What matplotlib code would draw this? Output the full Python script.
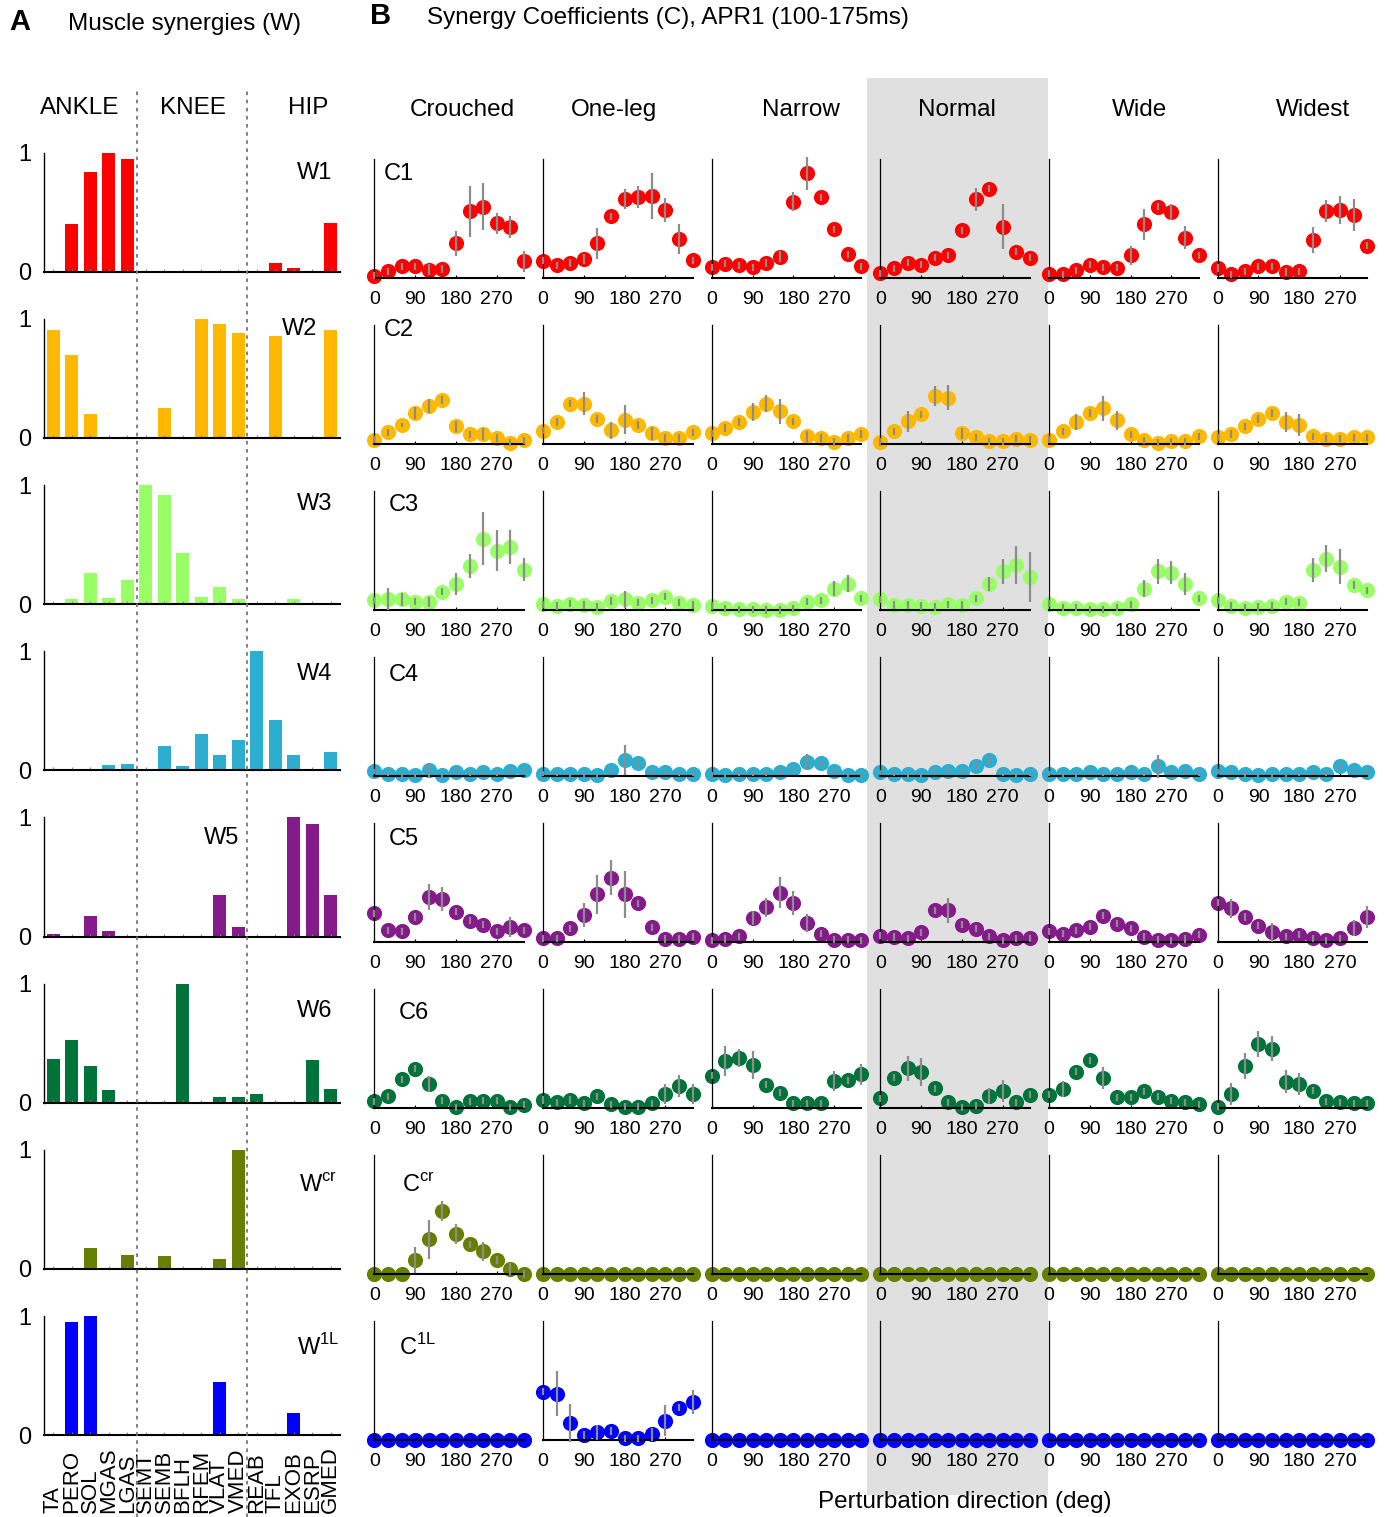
import matplotlib.pyplot as plt
import matplotlib.transforms as mtransforms
from matplotlib.patches import Rectangle
from matplotlib.lines import Line2D

plt.rcParams['font.family'] = ['Liberation Sans', 'DejaVu Sans']
plt.rcParams['mathtext.fontset'] = 'custom'
plt.rcParams['mathtext.rm'] = 'Liberation Sans'

# ---- data -------------------------------------------------------------
MUSCLES = ["TA", "PERO", "SOL", "MGAS", "LGAS", "SEMT", "SEMB", "BFLH",
           "RFEM", "VLAT", "VMED", "REAB", "TFL", "EXOB", "ESRP", "GMED"]
CONDITIONS = ["Crouched", "One-leg", "Narrow", "Normal", "Wide", "Widest"]
DIRECTIONS = [0, 30, 60, 90, 120, 150, 180, 210, 240, 270, 300, 330]
DIR_TICKS = [0, 90, 180, 270]

W_LABELS = ["W1", "W2", "W3", "W4", "W5", "W6", r"W$^{\rm cr}$", r"W$^{\rm 1L}$"]
C_LABELS = ["C1", "C2", "C3", "C4", "C5", "C6", r"C$^{\rm cr}$", r"C$^{\rm 1L}$"]
COLORS = ["#ff0000", "#ffb800", "#99ff66", "#2baed0",
          "#851a8a", "#00733a", "#667f00", "#0000ff"]

W1 = [0, 0.40, 0.84, 1.0, 0.95, 0, 0, 0, 0, 0, 0, 0, 0.07, 0.028, 0, 0.41]
W2 = [0.91, 0.70, 0.20, 0, 0, 0, 0.25, 0, 1.0, 0.96, 0.88, 0, 0.86, 0, 0, 0.905]
W3 = [0.005, 0.042, 0.258, 0.05, 0.20, 1.0, 0.92, 0.43, 0.06, 0.146, 0.04,
      0.003, 0.003, 0.04, 0.003, 0]
W4 = [0, 0, 0, 0.045, 0.056, 0, 0.204, 0.04, 0.307, 0.126, 0.257, 1.0,
      0.425, 0.126, 0, 0.154]
W5 = [0.022, 0, 0.17, 0.045, 0, 0, 0.008, 0, 0, 0.345, 0.084, 0, 0, 1.0,
      0.944, 0.345]
W6 = [0.37, 0.525, 0.306, 0.11, 0, 0, 0, 1.0, 0, 0.048, 0.048, 0.07, 0, 0,
      0.357, 0.112]
WCR = [0, 0, 0.177, 0, 0.115, 0, 0.107, 0, 0, 0.079, 1.0, 0, 0, 0, 0, 0]
W1L = [0, 0.952, 1.0, 0, 0, 0, 0, 0, 0, 0.443, 0, 0, 0, 0.182, 0, 0]

ZERO = [0, 0, 0, 0, 0, 0, 0, 0, 0, 0, 0, 0]

# rows: Crouched, One-leg, Narrow, Normal, Wide, Widest
C1_MEAN = [
    [0.02, 0.056, 0.10, 0.10, 0.07, 0.076, 0.29, 0.56, 0.60, 0.46, 0.43, 0.14],
    [0.146, 0.106, 0.126, 0.16, 0.29, 0.52, 0.66, 0.68, 0.69, 0.57, 0.33, 0.15],
    [0.09, 0.12, 0.106, 0.09, 0.126, 0.18, 0.64, 0.88, 0.68, 0.41, 0.20, 0.10],
    [0.04, 0.08, 0.13, 0.11, 0.17, 0.19, 0.40, 0.66, 0.75, 0.43, 0.22, 0.17],
    [0.036, 0.03, 0.065, 0.11, 0.09, 0.085, 0.19, 0.45, 0.60, 0.555, 0.34, 0.19],
    [0.084, 0.03, 0.056, 0.10, 0.10, 0.05, 0.056, 0.32, 0.56, 0.57, 0.53, 0.27],
]
C1_SEM = [
    [0.03, 0.03, 0.03, 0.03, 0.045, 0.03, 0.105, 0.213, 0.20, 0.088, 0.094, 0.09],
    [0.03, 0.03, 0.03, 0.04, 0.13, 0.03, 0.084, 0.094, 0.19, 0.10, 0.126, 0.03],
    [0.03, 0.03, 0.03, 0.03, 0.03, 0.045, 0.08, 0.14, 0.03, 0.03, 0.03, 0.03],
    [0.03, 0.03, 0.03, 0.03, 0.03, 0.03, 0.03, 0.094, 0.03, 0.19, 0.03, 0.03],
    [0.03, 0.03, 0.03, 0.03, 0.03, 0.03, 0.077, 0.13, 0.03, 0.065, 0.094, 0.03],
    [0.03, 0.03, 0.03, 0.03, 0.03, 0.03, 0.03, 0.106, 0.092, 0.116, 0.133, 0.03],
]
C2_MEAN = [
    [0.036, 0.10, 0.16, 0.26, 0.32, 0.37, 0.15, 0.08, 0.084, 0.05, 0.01, 0.03],
    [0.11, 0.185, 0.34, 0.34, 0.21, 0.115, 0.205, 0.16, 0.09, 0.05, 0.05, 0.10],
    [0.09, 0.135, 0.185, 0.27, 0.34, 0.275, 0.19, 0.065, 0.05, 0.017, 0.05, 0.084],
    [0.017, 0.107, 0.19, 0.25, 0.40, 0.39, 0.09, 0.056, 0.022, 0.022, 0.045, 0.036],
    [0.036, 0.107, 0.185, 0.26, 0.30, 0.20, 0.08, 0.03, 0.01, 0.022, 0.022, 0.065],
    [0.056, 0.084, 0.15, 0.21, 0.26, 0.185, 0.157, 0.065, 0.045, 0.045, 0.056, 0.056],
]
C2_SEM = [
    [0.03, 0.03, 0.02, 0.048, 0.06, 0.03, 0.045, 0.03, 0.05, 0.03, 0.03, 0.03],
    [0.03, 0.03, 0.03, 0.10, 0.03, 0.07, 0.12, 0.03, 0.056, 0.03, 0.03, 0.03],
    [0.03, 0.03, 0.03, 0.077, 0.075, 0.106, 0.03, 0.048, 0.03, 0.03, 0.03, 0.03],
    [0.03, 0.03, 0.09, 0.03, 0.084, 0.104, 0.045, 0.03, 0.03, 0.03, 0.03, 0.03],
    [0.03, 0.03, 0.07, 0.03, 0.106, 0.08, 0.03, 0.03, 0.03, 0.03, 0.03, 0.03],
    [0.03, 0.03, 0.03, 0.03, 0.03, 0.08, 0.092, 0.03, 0.03, 0.03, 0.03, 0.03],
]
C3_MEAN = [
    [0.08, 0.096, 0.09, 0.07, 0.07, 0.155, 0.22, 0.37, 0.60, 0.50, 0.53, 0.34],
    [0.048, 0.034, 0.054, 0.042, 0.025, 0.076, 0.09, 0.062, 0.082, 0.11, 0.062, 0.042],
    [0.034, 0.014, 0.006, 0.006, 0.0, 0.0, 0.014, 0.07, 0.082, 0.18, 0.22, 0.10],
    [0.09, 0.042, 0.042, 0.034, 0.025, 0.048, 0.042, 0.10, 0.22, 0.325, 0.38, 0.28],
    [0.054, 0.02, 0.02, 0.006, 0.006, 0.02, 0.048, 0.18, 0.325, 0.315, 0.22, 0.10],
    [0.08, 0.034, 0.02, 0.025, 0.034, 0.07, 0.062, 0.335, 0.43, 0.365, 0.21, 0.166],
]
C3_SEM = [
    [0.03, 0.092, 0.055, 0.03, 0.042, 0.03, 0.094, 0.101, 0.225, 0.175, 0.144, 0.099],
    [0.03, 0.03, 0.03, 0.03, 0.03, 0.03, 0.07, 0.03, 0.03, 0.03, 0.03, 0.03],
    [0.03, 0.03, 0.03, 0.03, 0.03, 0.03, 0.03, 0.03, 0.03, 0.063, 0.07, 0.03],
    [0.03, 0.03, 0.03, 0.03, 0.03, 0.03, 0.03, 0.03, 0.059, 0.106, 0.162, 0.211],
    [0.03, 0.03, 0.03, 0.03, 0.03, 0.03, 0.03, 0.068, 0.103, 0.094, 0.092, 0.03],
    [0.03, 0.03, 0.03, 0.03, 0.03, 0.03, 0.03, 0.103, 0.113, 0.15, 0.03, 0.03],
]
C4_MEAN = [
    [0.04, 0.02, 0.014, 0.008, 0.05, 0.008, 0.037, 0.02, 0.03, 0.02, 0.04, 0.05],
    [0.02, 0.02, 0.014, 0.014, 0.008, 0.05, 0.135, 0.107, 0.037, 0.03, 0.02, 0.02],
    [0.014, 0.008, 0.02, 0.02, 0.02, 0.037, 0.06, 0.115, 0.107, 0.04, 0.008, 0.008],
    [0.03, 0.02, 0.014, 0.008, 0.037, 0.04, 0.04, 0.087, 0.135, 0.02, 0.008, 0.02],
    [0.02, 0.014, 0.014, 0.03, 0.02, 0.02, 0.037, 0.02, 0.08, 0.037, 0.04, 0.02],
    [0.04, 0.03, 0.014, 0.008, 0.014, 0.014, 0.02, 0.03, 0.02, 0.08, 0.05, 0.037],
]
C4_SEM = [
    [0.02, 0.02, 0.02, 0.02, 0.06, 0.02, 0.02, 0.02, 0.02, 0.02, 0.02, 0.02],
    [0.02, 0.02, 0.02, 0.02, 0.02, 0.02, 0.127, 0.03, 0.02, 0.02, 0.02, 0.02],
    [0.02, 0.02, 0.02, 0.02, 0.02, 0.03, 0.02, 0.068, 0.03, 0.02, 0.02, 0.02],
    [0.02, 0.02, 0.02, 0.02, 0.02, 0.02, 0.02, 0.03, 0.03, 0.02, 0.02, 0.02],
    [0.02, 0.02, 0.02, 0.02, 0.02, 0.02, 0.02, 0.02, 0.10, 0.02, 0.02, 0.02],
    [0.02, 0.02, 0.02, 0.02, 0.02, 0.02, 0.02, 0.02, 0.02, 0.03, 0.02, 0.02],
]
C5_MEAN = [
    [0.24, 0.10, 0.09, 0.21, 0.38, 0.36, 0.256, 0.18, 0.145, 0.09, 0.125, 0.10],
    [0.033, 0.033, 0.117, 0.23, 0.40, 0.54, 0.40, 0.326, 0.125, 0.025, 0.025, 0.042],
    [0.014, 0.025, 0.047, 0.20, 0.29, 0.415, 0.33, 0.16, 0.07, 0.02, 0.02, 0.014],
    [0.053, 0.042, 0.033, 0.08, 0.265, 0.265, 0.145, 0.11, 0.047, 0.014, 0.033, 0.033],
    [0.09, 0.07, 0.098, 0.13, 0.22, 0.153, 0.117, 0.042, 0.02, 0.014, 0.025, 0.06],
    [0.33, 0.284, 0.21, 0.136, 0.08, 0.047, 0.06, 0.033, 0.014, 0.033, 0.117, 0.21],
]
C5_SEM = [
    [0.03, 0.03, 0.03, 0.03, 0.11, 0.102, 0.03, 0.03, 0.03, 0.03, 0.084, 0.03],
    [0.03, 0.03, 0.03, 0.10, 0.164, 0.146, 0.195, 0.03, 0.03, 0.03, 0.03, 0.03],
    [0.03, 0.03, 0.03, 0.06, 0.08, 0.13, 0.102, 0.074, 0.03, 0.03, 0.03, 0.03],
    [0.03, 0.03, 0.03, 0.03, 0.03, 0.107, 0.03, 0.03, 0.03, 0.03, 0.03, 0.03],
    [0.03, 0.03, 0.03, 0.03, 0.03, 0.03, 0.03, 0.03, 0.03, 0.03, 0.03, 0.03],
    [0.03, 0.08, 0.03, 0.03, 0.078, 0.03, 0.03, 0.03, 0.03, 0.03, 0.066, 0.09],
]
C6_MEAN = [
    [0.056, 0.10, 0.24, 0.33, 0.205, 0.06, 0.005, 0.056, 0.06, 0.06, 0.005, 0.028],
    [0.067, 0.047, 0.067, 0.04, 0.10, 0.033, 0.011, 0.011, 0.04, 0.117, 0.186, 0.117],
    [0.27, 0.394, 0.417, 0.36, 0.195, 0.13, 0.04, 0.04, 0.04, 0.23, 0.233, 0.283],
    [0.083, 0.255, 0.333, 0.30, 0.167, 0.047, 0.005, 0.02, 0.10, 0.14, 0.047, 0.11],
    [0.11, 0.158, 0.305, 0.40, 0.255, 0.09, 0.09, 0.14, 0.094, 0.06, 0.047, 0.033],
    [0.011, 0.117, 0.353, 0.54, 0.50, 0.222, 0.20, 0.144, 0.056, 0.047, 0.04, 0.04],
]
C6_SEM = [
    [0.03, 0.03, 0.03, 0.03, 0.067, 0.03, 0.03, 0.03, 0.03, 0.03, 0.03, 0.03],
    [0.03, 0.03, 0.03, 0.03, 0.03, 0.03, 0.03, 0.03, 0.03, 0.081, 0.09, 0.083],
    [0.03, 0.125, 0.076, 0.115, 0.03, 0.03, 0.03, 0.03, 0.03, 0.083, 0.03, 0.089],
    [0.03, 0.03, 0.108, 0.118, 0.03, 0.03, 0.03, 0.03, 0.065, 0.092, 0.03, 0.03],
    [0.03, 0.069, 0.03, 0.03, 0.093, 0.03, 0.03, 0.03, 0.03, 0.03, 0.03, 0.03],
    [0.03, 0.089, 0.111, 0.108, 0.103, 0.097, 0.09, 0.03, 0.03, 0.03, 0.03, 0.03],
]
CCR_CROUCHED = [0, 0, 0, 0.118, 0.29, 0.53, 0.336, 0.25, 0.19, 0.118, 0.04, 0]
CCR_CROUCHED_SEM = [0, 0, 0, 0.112, 0.161, 0.087, 0.08, 0.03, 0.077, 0.03, 0.05, 0.03]
C1L_ONELEG = [0.406, 0.39, 0.14, 0.042, 0.064, 0.076, 0.014, 0.014, 0.048, 0.16, 0.27, 0.32]
C1L_ONELEG_SEM = [0.03, 0.192, 0.16, 0.03, 0.06, 0.03, 0.03, 0.03, 0.056, 0.13, 0.03, 0.098]

CCR_MEAN = [CCR_CROUCHED, ZERO, ZERO, ZERO, ZERO, ZERO]
CCR_SEM = [CCR_CROUCHED_SEM, ZERO, ZERO, ZERO, ZERO, ZERO]
C1L_MEAN = [ZERO, C1L_ONELEG, ZERO, ZERO, ZERO, ZERO]
C1L_SEM = [ZERO, C1L_ONELEG_SEM, ZERO, ZERO, ZERO, ZERO]

W_ALL = [W1, W2, W3, W4, W5, W6, WCR, W1L]
C_MEAN_ALL = [C1_MEAN, C2_MEAN, C3_MEAN, C4_MEAN, C5_MEAN, C6_MEAN, CCR_MEAN, C1L_MEAN]
C_SEM_ALL = [C1_SEM, C2_SEM, C3_SEM, C4_SEM, C5_SEM, C6_SEM, CCR_SEM, C1L_SEM]

# ---- layout (pixels) --------------------------------------------------
FIG_W, FIG_H = 1385, 1517
A_LEFT, A_WIDTH, A_TOP0 = 44, 296, 152.7
ROW_STEP, AX_H = 166.2, 119
B_LEFT0, B_COL_STEP, B_WIDTH, B_TOP0, B_ROW_STEP = 374.4, 168.66, 149.6, 159, 166.0

W_LABEL_POS = [(315, 173), (300, 329), (315, 504), (315, 674),
               (222, 838), (315, 1011), (318, 1185), (318, 1347)]
C_LABEL_POS = [(399, 174), (399, 330), (404, 505), (404, 675),
               (404, 839), (414, 1013), (418, 1185), (418, 1347)]
HEADER_X = [462, 614, 801, 957, 1140, 1313]
GROUP_LABELS = [("ANKLE", 80), ("KNEE", 193), ("HIP", 308)]
GROUP_SPLITS = [4.5, 10.5]


def rect(left, top, width, height):
    return [left / FIG_W, 1 - (top + height) / FIG_H, width / FIG_W, height / FIG_H]


def pt(x, y):
    return x / FIG_W, 1 - y / FIG_H


fig = plt.figure(figsize=(FIG_W / 100, FIG_H / 100), dpi=100)

# grey band behind the "Normal" column
x0, y0 = pt(867, 1495)
x1, y1 = pt(1048, 78)
fig.patches.append(Rectangle((x0, y0), x1 - x0, y1 - y0, transform=fig.transFigure,
                             facecolor="#e0e0e0", edgecolor="none", zorder=-1))

# ---- panel A: synergy weights ----------------------------------------
xpos = list(range(len(MUSCLES)))
a_axes = []
for i, (w, color) in enumerate(zip(W_ALL, COLORS)):
    ax = fig.add_axes(rect(A_LEFT, A_TOP0 + i * ROW_STEP, A_WIDTH, AX_H))
    ax.set_facecolor("none")
    ax.bar(xpos, w, width=0.72, color=color, linewidth=0)
    ax.set_xlim(-0.5, 15.5)
    ax.set_ylim(0, 1)
    for s in ("top", "right"):
        ax.spines[s].set_visible(False)
    ax.spines["left"].set_linewidth(1.0)
    ax.spines["bottom"].set_linewidth(1.5)
    ax.set_yticks([0, 1])
    ax.set_yticklabels(["0", "1"], fontsize=17)
    ax.tick_params(axis="y", length=0, pad=9)
    ax.set_xticks(xpos)
    ax.set_xticklabels([])
    ax.tick_params(axis="x", direction="in", length=2, color="#888888")
    fig.text(*pt(*W_LABEL_POS[i]), W_LABELS[i], fontsize=17, ha="center", va="center")
    a_axes.append(ax)

# muscle names, bottom-aligned like the original
trans = mtransforms.blended_transform_factory(a_axes[-1].transData, fig.transFigure)
for x, name in zip(xpos, MUSCLES):
    a_axes[-1].text(x, pt(0, 1513)[1], name, rotation=90, fontsize=16,
                    ha="center", va="bottom", transform=trans, clip_on=False)

# dotted separators between joint groups
for split in GROUP_SPLITS:
    xf = fig.transFigure.inverted().transform(a_axes[0].transData.transform((split, 0)))[0]
    fig.add_artist(Line2D([xf, xf], [pt(0, 1517)[1], pt(0, 87)[1]],
                          transform=fig.transFigure, color="#777777",
                          linestyle=(0, (2, 2.5)), linewidth=1.3))

for name, x in GROUP_LABELS:
    fig.text(*pt(x, 108), name, fontsize=17.5, ha="center", va="center")

# ---- panel B: synergy coefficients -----------------------------------
for i, (means, sems, color) in enumerate(zip(C_MEAN_ALL, C_SEM_ALL, COLORS)):
    for j in range(len(CONDITIONS)):
        ax = fig.add_axes(rect(B_LEFT0 + j * B_COL_STEP, B_TOP0 + i * B_ROW_STEP,
                               B_WIDTH, AX_H))
        ax.set_facecolor("none")
        m = means[j]
        e = sems[j]
        ax.plot(DIRECTIONS, m, "o", ms=9.9, color=color, mec=color,
                zorder=2, clip_on=False)
        lo = [a - b for a, b in zip(m, e)]
        hi = [a + b for a, b in zip(m, e)]
        ax.vlines(DIRECTIONS, lo, hi, colors="#8c8c8c", linewidth=1.6,
                  zorder=3, clip_on=False)
        ax.set_xlim(0, 330)
        ax.set_ylim(0, 1)
        for s in ("top", "right"):
            ax.spines[s].set_visible(False)
        ax.spines["left"].set_linewidth(0.9)
        ax.spines["bottom"].set_linewidth(1.5)
        ax.spines["bottom"].set_zorder(2.5)
        ax.set_yticks([])
        ax.set_xticks(DIR_TICKS)
        ax.set_xticklabels([str(t) for t in DIR_TICKS], fontsize=14)
        ax.tick_params(axis="x", direction="in", length=2, pad=9)
    fig.text(*pt(*C_LABEL_POS[i]), C_LABELS[i], fontsize=17, ha="center", va="center")

for name, x in zip(CONDITIONS, HEADER_X):
    fig.text(*pt(x, 110), name, fontsize=17.5, ha="center", va="center")

# ---- titles -----------------------------------------------------------
fig.text(*pt(20, 22), "A", fontsize=21, fontweight="bold", ha="center", va="center")
fig.text(*pt(68, 24), "Muscle synergies (W)", fontsize=17.5, ha="left", va="center")
fig.text(*pt(381, 16), "B", fontsize=21, fontweight="bold", ha="center", va="center")
fig.text(*pt(427, 18), "Synergy Coefficients (C), APR1 (100-175ms)", fontsize=17.5,
         ha="left", va="center")
fig.text(*pt(965, 1502), "Perturbation direction (deg)", fontsize=17.5,
         ha="center", va="center")

fig.savefig("out.png", dpi=100)
